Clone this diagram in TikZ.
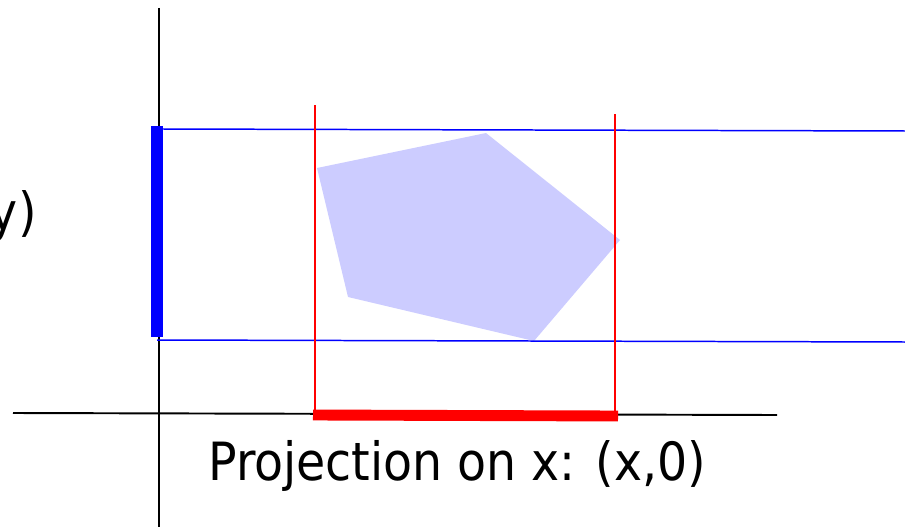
\documentclass[tikz,border=0pt]{standalone}
\usepackage{fontspec}
\setmainfont{DejaVu Sans Condensed}
\usetikzlibrary{positioning}
\begin{document}
\begin{tikzpicture}[x=0.02cm,y=-0.02cm]
\tikzstyle{axis}=[draw=black,line width=1.1pt]
\tikzstyle{thinb}=[draw=blue,line width=0.85pt]
\tikzstyle{thinr}=[draw=red,line width=1.1pt]
\tikzstyle{proj}=[font=\fontsize{30}{36}\selectfont,inner sep=0pt]
\useasboundingbox (0,0) rectangle (905,527);
\clip (0,0) rectangle (905,527);
% axes
\coordinate (yt) at (159,8);
\coordinate (yb) at (159,527);
\coordinate (xl) at (13,413);
\coordinate (xr) at (777,415);
\draw[axis] (yt) -- (yb);
\draw[axis] (xl) -- (xr);
% the polygon
\coordinate (p1) at (317,168);
\coordinate (p2) at (486,133);
\coordinate (p3) at (620,240);
\coordinate (p4) at (534,341);
\coordinate (p5) at (348,297);
\fill[blue!20] (p1) -- (p2) -- (p3) -- (p4) -- (p5) -- cycle;
% horizontal bounds
\coordinate (bt1) at (163,129);
\coordinate (bt2) at (905,131);
\coordinate (bb1) at (157,340);
\coordinate (bb2) at (905,342);
\draw[thinb] (bt1) -- (bt2);
\draw[thinb] (bb1) -- (bb2);
% vertical bounds
\coordinate (rl1) at (315,105);
\coordinate (rl2) at (315,413);
\coordinate (rr1) at (615,114);
\coordinate (rr2) at (615,413);
\draw[thinr] (rl1) -- (rl2);
\draw[thinr] (rr1) -- (rr2);
% projections
\coordinate (ya) at (157,126);
\coordinate (yz) at (157,337);
\coordinate (xa) at (313,415);
\coordinate (xz) at (618,416);
\draw[blue,line width=6.8pt] (ya) -- (yz);
\draw[red,line width=6.2pt] (xa) -- (xz);
\node[proj,anchor=base west] (px) at (208,480) {Projection on x: (x,0)};
\node[proj,anchor=base east] (py) at (37,230) {Projection on y: (0,y)};
\end{tikzpicture}
\end{document}
